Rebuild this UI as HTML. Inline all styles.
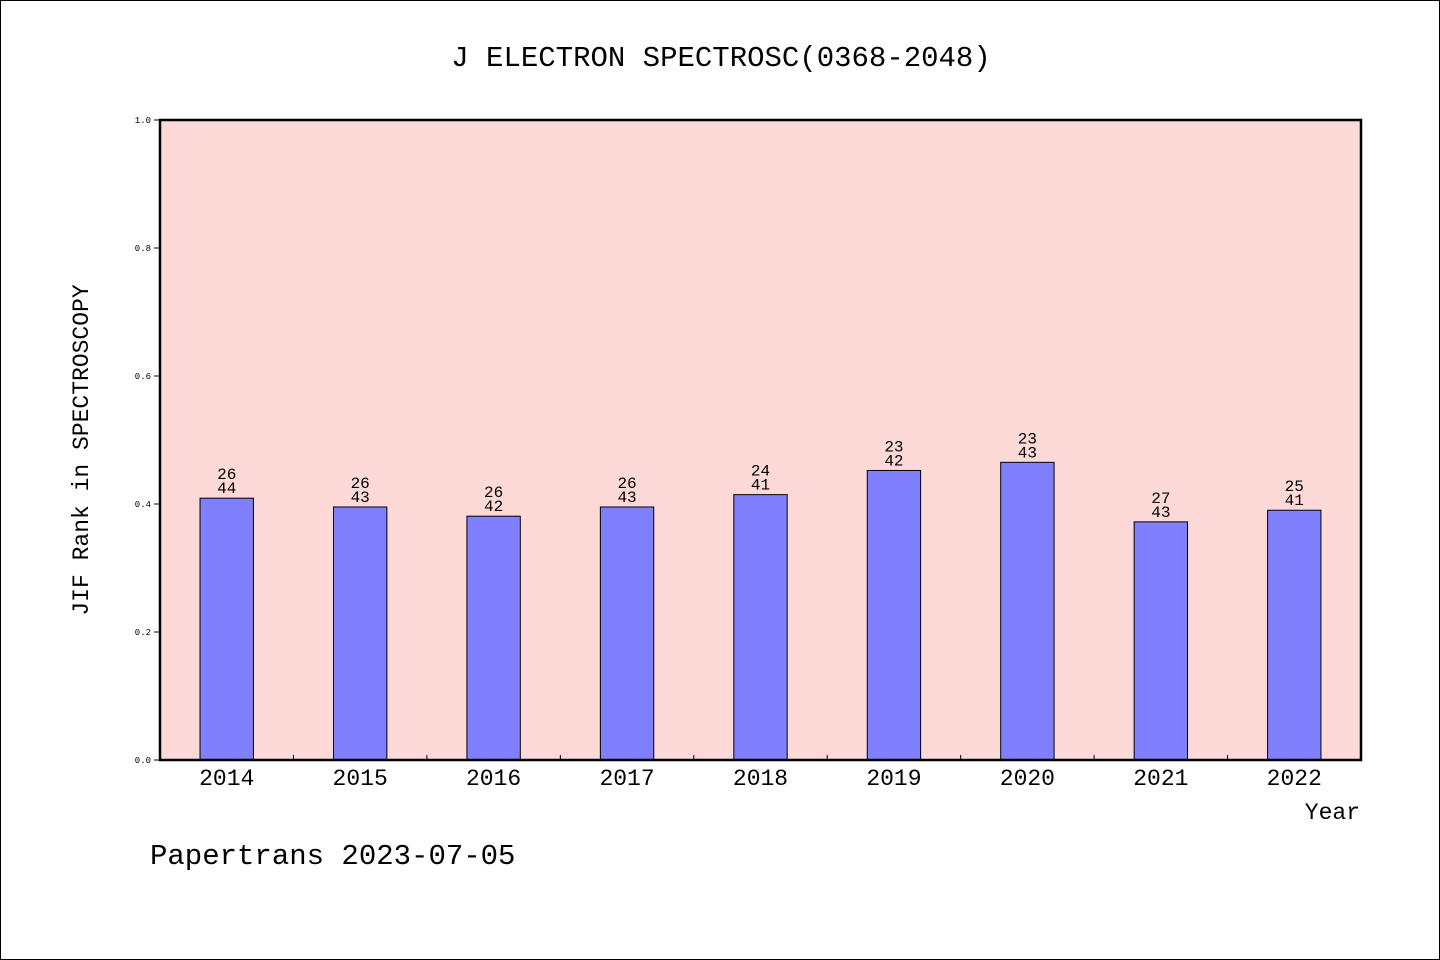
<!DOCTYPE html>
<html><head><meta charset="utf-8"><style>
html,body{margin:0;padding:0;background:#fff}
svg{display:block}
text{font-family:"Liberation Mono","WenQuanYi Zen Hei",monospace;fill:#000}
</style></head><body>
<svg width="1440" height="960">
<rect x="0.5" y="0.5" width="1439" height="959" fill="#fff" stroke="#000"/>
<text x="721" y="66" font-size="29" text-anchor="middle">J ELECTRON SPECTROSC(0368-2048)</text>
<rect x="160" y="120" width="1201" height="640" fill="#fddad7"/>
<g id="bars"></g>
<rect x="160" y="120" width="1201" height="640" fill="none" stroke="#000" stroke-width="2.5"/>
<g id="axes"></g>
<text transform="translate(88,450) rotate(-90)" font-size="23" text-anchor="middle">JIF Rank in SPECTROSCOPY</text>
<text x="1360" y="819" font-size="23" text-anchor="end">Year</text>
<text x="150" y="864" font-size="29">Papertrans 2023-07-05</text>
</svg>
<script>
const years=["2014","2015","2016","2017","2018","2019","2020","2021","2022"];
const ranks=[26,26,26,26,24,23,23,27,25];
const totals=[44,43,42,43,41,42,43,43,41];
const yTicks=[0,0.2,0.4,0.6,0.8,1.0];
const NS="http://www.w3.org/2000/svg";
const x0=160,x1=1361,yb=760,yt=120;
const bw=(x1-x0)/years.length;
const ys=v=>yb-(yb-yt)*v;
const bars=document.getElementById('bars'),axes=document.getElementById('axes');
function mk(tag,attrs,parent){const e=document.createElementNS(NS,tag);for(const k in attrs)e.setAttribute(k,attrs[k]);parent.appendChild(e);return e;}
years.forEach((yr,i)=>{
  const v=1-ranks[i]/totals[i];
  const cx=x0+bw*(i+0.5),w=bw*0.4;
  const r=mk('rect',{x:cx-w/2,y:ys(v),width:w,height:yb-ys(v),fill:'#8080ff',stroke:'#000','stroke-width':1},bars);
  
  
  const t1=mk('text',{x:cx,y:ys(v)-19,'font-size':16,'text-anchor':'middle'},bars);t1.textContent=ranks[i];
  
  
  const t2=mk('text',{x:cx,y:ys(v)-5,'font-size':16,'text-anchor':'middle'},bars);t2.textContent=totals[i];
  
  
  const xl=mk('text',{x:cx,y:785,'font-size':23,'text-anchor':'middle'},axes);xl.textContent=yr;
  
  
  if(i>0){const tk=mk('line',{x1:x0+bw*i,x2:x0+bw*i,y1:yb,y2:yb-5,stroke:'#000'},axes);
  
  }
});
yTicks.forEach(v=>{
  const l=mk('line',{x1:x0-6,x2:x0,y1:ys(v),y2:ys(v),stroke:'#000'},axes);
  
  
  const t=mk('text',{x:x0-9,y:ys(v)+3,'font-size':9,'text-anchor':'end'},axes);t.textContent=v.toFixed(1);
  
  
});
</script>
</body></html>
